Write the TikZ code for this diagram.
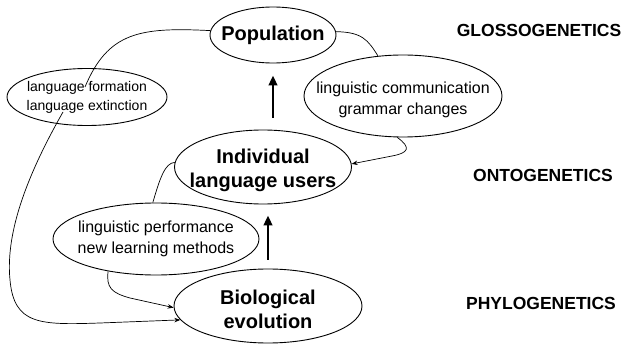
\documentclass[tikz,border=0pt]{standalone}
\usepackage{fontspec}
\setmainfont{Liberation Sans}
\usetikzlibrary{shapes.geometric,arrows.meta}
\begin{document}
\begin{tikzpicture}[x=1pt,y=-1pt,
  ell/.style={ellipse,draw,line width=0.9pt,inner sep=0pt},
  bigtxt/.style={font=\fontsize{20}{24}\selectfont\bfseries,align=center},
  smalltxt/.style={font=\fontsize{16}{21}\selectfont,align=center},
  tinytxt/.style={font=\fontsize{14}{19}\selectfont,align=center},
  level/.style={font=\fontsize{17.5}{20}\selectfont\bfseries},
  conn/.style={line width=0.7pt},
  thinarrow/.style={conn,-{Stealth[length=6pt,width=4.5pt]}},
  bigarrow/.style={line width=2.6pt,-{Triangle[length=10pt,width=8.5pt]}}]
\useasboundingbox (0,0) rectangle (625,345);

\node[ell,minimum width=126pt,minimum height=56pt,
  label={[bigtxt]center:Population}] (pop) at (273,35) {};
\node[ell,minimum width=160pt,minimum height=57pt,
  label={[tinytxt]center:{language formation\\language extinction}}] (form) at (87,97) {};
\node[ell,minimum width=198pt,minimum height=82pt,
  label={[smalltxt,yshift=-4pt]center:{linguistic communication\\grammar changes}}] (comm) at (403,96) {};
\node[ell,minimum width=177pt,minimum height=74pt,
  label={[bigtxt,yshift=-3pt]center:{Individual\\language users}}] (ind) at (263,167) {};
\node[ell,minimum width=206pt,minimum height=72pt,
  label={[smalltxt]center:{linguistic performance\\new learning methods}}] (lp) at (156,239) {};
\node[ell,minimum width=188pt,minimum height=74pt,
  label={[bigtxt,yshift=-3pt]center:{Biological\\evolution}}] (bio) at (268,306) {};

\node[level] (glosso) at (539,30) {GLOSSOGENETICS};
\node[level] (onto) at (543,175) {ONTOGENETICS};
\node[level] (phylo) at (541,303) {PHYLOGENETICS};

\coordinate (f1) at (85,87);
\coordinate (f2) at (63,112);

\draw[bigarrow,shorten <=12pt,shorten >=12pt] (pop.south |- ind.north) -- (pop.south);
\draw[bigarrow,shorten <=9pt,shorten >=11pt] (bio.north) -- (bio.north |- ind.south);

\draw[conn] (pop.176) .. controls (140,27) and (108,32) .. (f1);
\draw[thinarrow] (f2) .. controls (30,170) and (5,230) .. (10,280)
  .. controls (14,325) and (40,325) .. (100,323) -- (bio.189);
\draw[conn] (pop.3) .. controls (362,32) and (368,40) .. (comm.122);
\draw[thinarrow] (comm.262) .. controls (412,148) and (408,153) .. (392,156) -- (ind.2);
\draw[conn] (ind.177) .. controls (165,163) and (160,178) .. (lp.95);
\draw[thinarrow] (lp.214) .. controls (106,288) and (112,293) .. (130,298) -- (bio.181);
\end{tikzpicture}
\end{document}
